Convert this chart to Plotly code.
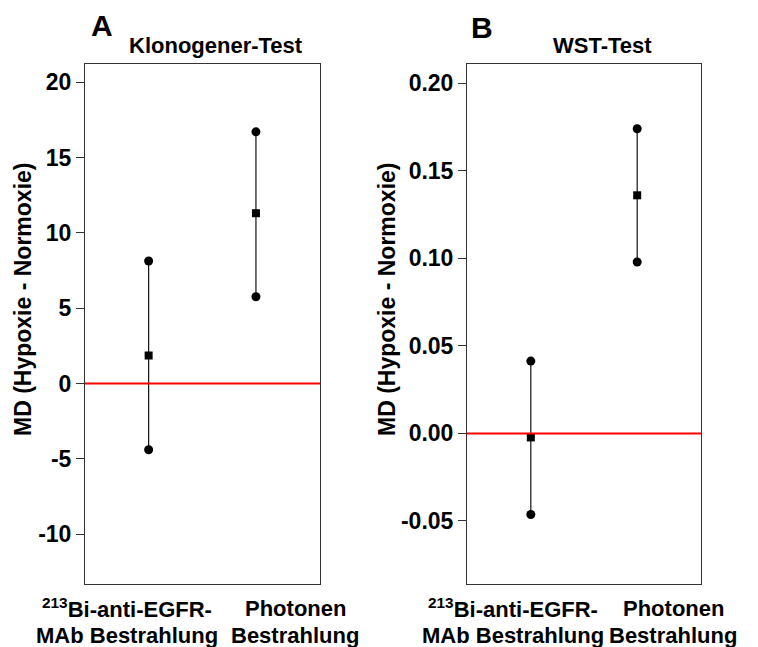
import plotly.graph_objects as go

categories = [1, 2]
cat_line1 = ["<sup>213</sup>Bi-anti-EGFR-", "Photonen"]
cat_line2 = ["MAb Bestrahlung", "Bestrahlung"]

# Panel A: Klonogener-Test
a_mean = [1.86, 11.3]
a_lower = [-4.39, 5.76]
a_upper = [8.13, 16.7]

# Panel B: WST-Test
b_mean = [-0.0023, 0.136]
b_lower = [-0.0463, 0.0979]
b_upper = [0.0413, 0.174]

a_ticks = [-10, -5, 0, 5, 10, 15, 20]
b_ticks = [-0.05, 0.0, 0.05, 0.10, 0.15, 0.20]

FONT = "Liberation Sans, Arial, sans-serif"
W, H = 758, 647
L, R, T, B = 85, 57, 64, 63

fig = go.Figure()

def add_panel(xa, ya, mean, lower, upper):
    for i, c in enumerate(categories):
        fig.add_trace(go.Scatter(
            x=[c, c], y=[lower[i], upper[i]], mode="lines+markers",
            line=dict(color="#111111", width=1.2),
            marker=dict(symbol="circle", size=9, color="black"),
            xaxis=xa, yaxis=ya, showlegend=False, hoverinfo="skip"))
    fig.add_trace(go.Scatter(
        x=categories, y=mean, mode="markers",
        marker=dict(symbol="square", size=8, color="black"),
        xaxis=xa, yaxis=ya, showlegend=False))

add_panel("x", "y", a_mean, a_lower, a_upper)
add_panel("x2", "y2", b_mean, b_lower, b_upper)

pw = W - L - R
dA = [0, (320 - L) / pw]
dB = [(467 - L) / pw, 1]

tickfont = dict(size=23, family=FONT, color="black", weight="bold")
axis_common = dict(showline=True, linecolor="#333333", linewidth=1, mirror=True,
                   showgrid=False, zeroline=False)
fig.update_layout(
    width=W, height=H, margin=dict(l=L, r=R, t=T, b=B),
    paper_bgcolor="white", plot_bgcolor="white",
    font=dict(family=FONT, color="black"),
    xaxis=dict(domain=dA, range=[0.407, 2.597], showticklabels=False, ticks="", **axis_common),
    xaxis2=dict(domain=dB, range=[0.4, 2.6], showticklabels=False, ticks="", anchor="y2", **axis_common),
    yaxis=dict(range=[-13.3, 21.2], tickvals=a_ticks, ticktext=[str(t) for t in a_ticks],
               ticks="outside", ticklen=8, tickcolor="#333333", tickfont=tickfont, **axis_common),
    yaxis2=dict(range=[-0.086, 0.211], tickvals=b_ticks, ticktext=[f"{t:.2f}" for t in b_ticks],
                ticks="outside", ticklen=8, tickcolor="#333333", tickfont=tickfont,
                anchor="x2", **axis_common),
)

for xr, yr in [("x domain", "y"), ("x2 domain", "y2")]:
    fig.add_shape(type="line", xref=xr, yref=yr, x0=0, x1=1, y0=0, y1=0,
                  line=dict(color="#ff0000", width=2))

def px_x(px):
    return (px - L) / pw

def px_y(py):
    return 1 - (py - T) / (H - T - B)

def bf(size):
    return dict(size=size, family=FONT, color="black", weight="bold")

ann = []
# panel letters
ann.append(dict(text="A", x=px_x(89), y=px_y(25), xanchor="left", yanchor="middle", font=bf(30)))
ann.append(dict(text="B", x=px_x(469), y=px_y(27), xanchor="left", yanchor="middle", font=bf(30)))
# titles
ann.append(dict(text="Klonogener-Test", x=px_x(216), y=px_y(46), xanchor="center", yanchor="middle", font=bf(22)))
ann.append(dict(text="WST-Test", x=px_x(602), y=px_y(46), xanchor="center", yanchor="middle", font=bf(22)))
# y titles
for xpx in [23, 387]:
    ann.append(dict(text="MD (Hypoxie - Normoxie)", x=px_x(xpx), y=px_y(300), textangle=-90,
                    xanchor="center", yanchor="middle", font=bf(23)))
# category labels
for xpx_list in [[127, 295], [513, 673]]:
    for l1, l2, xpx in zip(cat_line1, cat_line2, xpx_list):
        ann.append(dict(text=l1, x=px_x(xpx), y=px_y(608), xanchor="center", yanchor="middle", font=bf(22)))
        ann.append(dict(text=l2, x=px_x(xpx), y=px_y(635), xanchor="center", yanchor="middle", font=bf(22)))
for a in ann:
    a.update(xref="paper", yref="paper", showarrow=False)
fig.update_layout(annotations=ann)

fig.write_html("out.html")
